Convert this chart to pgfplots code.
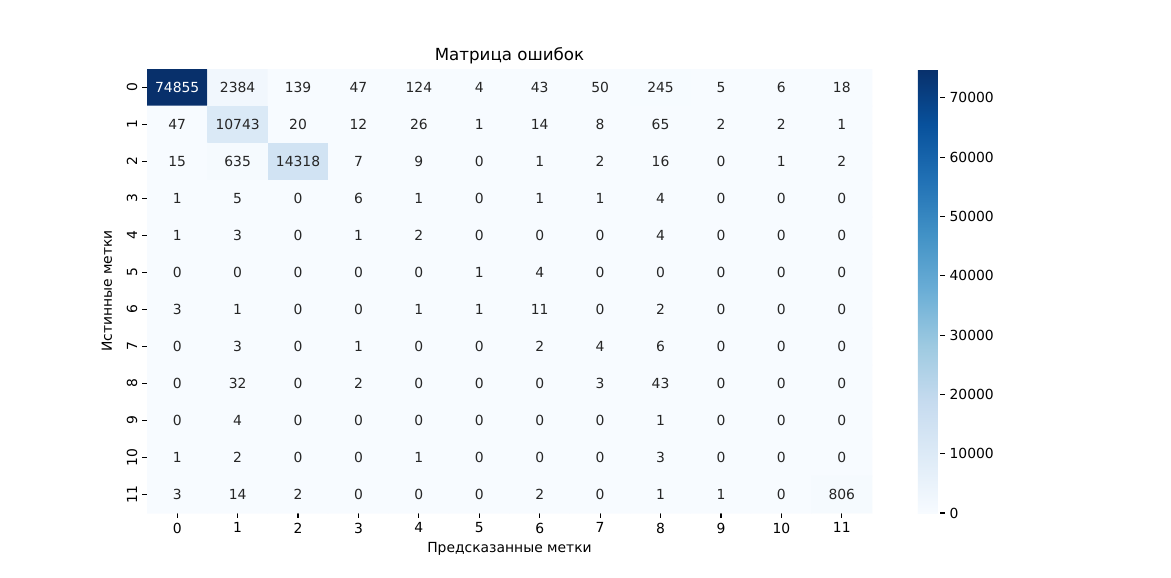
\documentclass[border=0pt]{standalone}
\usepackage{pgfplots}
\usepackage{pgfplotstable}
\pgfplotsset{compat=1.18}
\usepackage{fontspec}
\setmainfont{DejaVu Sans}
\definecolor{annot}{HTML}{262626}
\pgfplotstableread[row sep=\\]{
x y c\\
0 0 74855\\ 1 0 2384\\ 2 0 139\\ 3 0 47\\ 4 0 124\\ 5 0 4\\ 6 0 43\\ 7 0 50\\ 8 0 245\\ 9 0 5\\ 10 0 6\\ 11 0 18\\
0 1 47\\ 1 1 10743\\ 2 1 20\\ 3 1 12\\ 4 1 26\\ 5 1 1\\ 6 1 14\\ 7 1 8\\ 8 1 65\\ 9 1 2\\ 10 1 2\\ 11 1 1\\
0 2 15\\ 1 2 635\\ 2 2 14318\\ 3 2 7\\ 4 2 9\\ 5 2 0\\ 6 2 1\\ 7 2 2\\ 8 2 16\\ 9 2 0\\ 10 2 1\\ 11 2 2\\
0 3 1\\ 1 3 5\\ 2 3 0\\ 3 3 6\\ 4 3 1\\ 5 3 0\\ 6 3 1\\ 7 3 1\\ 8 3 4\\ 9 3 0\\ 10 3 0\\ 11 3 0\\
0 4 1\\ 1 4 3\\ 2 4 0\\ 3 4 1\\ 4 4 2\\ 5 4 0\\ 6 4 0\\ 7 4 0\\ 8 4 4\\ 9 4 0\\ 10 4 0\\ 11 4 0\\
0 5 0\\ 1 5 0\\ 2 5 0\\ 3 5 0\\ 4 5 0\\ 5 5 1\\ 6 5 4\\ 7 5 0\\ 8 5 0\\ 9 5 0\\ 10 5 0\\ 11 5 0\\
0 6 3\\ 1 6 1\\ 2 6 0\\ 3 6 0\\ 4 6 1\\ 5 6 1\\ 6 6 11\\ 7 6 0\\ 8 6 2\\ 9 6 0\\ 10 6 0\\ 11 6 0\\
0 7 0\\ 1 7 3\\ 2 7 0\\ 3 7 1\\ 4 7 0\\ 5 7 0\\ 6 7 2\\ 7 7 4\\ 8 7 6\\ 9 7 0\\ 10 7 0\\ 11 7 0\\
0 8 0\\ 1 8 32\\ 2 8 0\\ 3 8 2\\ 4 8 0\\ 5 8 0\\ 6 8 0\\ 7 8 3\\ 8 8 43\\ 9 8 0\\ 10 8 0\\ 11 8 0\\
0 9 0\\ 1 9 4\\ 2 9 0\\ 3 9 0\\ 4 9 0\\ 5 9 0\\ 6 9 0\\ 7 9 0\\ 8 9 1\\ 9 9 0\\ 10 9 0\\ 11 9 0\\
0 10 1\\ 1 10 2\\ 2 10 0\\ 3 10 0\\ 4 10 1\\ 5 10 0\\ 6 10 0\\ 7 10 0\\ 8 10 3\\ 9 10 0\\ 10 10 0\\ 11 10 0\\
0 11 3\\ 1 11 14\\ 2 11 2\\ 3 11 0\\ 4 11 0\\ 5 11 0\\ 6 11 2\\ 7 11 0\\ 8 11 1\\ 9 11 1\\ 10 11 0\\ 11 11 806\\
}\cm
\begin{document}
\begin{tikzpicture}
\path[use as bounding box, fill=white] (0,0) rectangle (843.12pt,415.44pt);
\begin{axis}[
  at={(105.84pt,46.08pt)}, anchor=south west,
  scale only axis, width=522pt, height=319.68pt,
  xmin=-0.5, xmax=11.5, ymin=-0.5, ymax=11.5,
  y dir=reverse,
  axis line style={draw=none},
  xtick={0,...,11}, ytick={0,...,11},
  xtick pos=bottom, ytick pos=left,
  tick align=outside, major tick length=3.5pt,
  tick style={black, line width=0.8pt},
  ticklabel style={font=\fontsize{10}{12}\selectfont},
  yticklabel style={rotate=90, anchor=south},
  /pgf/number format/assume math mode=true,
  /pgf/number format/1000 sep={},
  title={Матрица ошибок},
  title style={font=\fontsize{12}{14}\selectfont, inner sep=0pt, yshift=-2.64pt},
  xlabel={Предсказанные метки}, ylabel={Истинные метки},
  ylabel shift=3.6pt,
  label style={font=\fontsize{10}{12}\selectfont},
  colormap={blues}{rgb255=(247,251,255) rgb255=(222,235,247) rgb255=(198,219,239) rgb255=(158,202,225) rgb255=(107,174,214) rgb255=(66,146,198) rgb255=(33,113,181) rgb255=(8,81,156) rgb255=(8,48,107)},
  point meta min=0, point meta max=74855,
  colorbar,
  colorbar style={
    at={(parent axis.north east)}, anchor=north west, xshift=24.48pt,
    width=15.84pt, height=319.68pt,
    axis line style={draw=none},
    xtick=\empty,
    ytick={0,10000,20000,30000,40000,50000,60000,70000},
    ytick pos=right,
    scaled y ticks=false,
    tick align=outside, major tick length=3.5pt,
    tick style={black, line width=0.8pt},
    yticklabel style={font=\fontsize{10}{12}\selectfont, /pgf/number format/1000 sep={}, /pgf/number format/assume math mode=true, /pgf/number format/fixed},
  },
]
\addplot[matrix plot*, mesh/cols=12, point meta=explicit] table[x=x, y=y, meta=c] {\cm};
\addplot[only marks, mark=none, point meta=explicit,
  nodes near coords={\pgfmathprintnumber[fixed,precision=0,1000 sep={},assume math mode=true]{\pgfplotspointmeta}},
  nodes near coords align=center,
  every node near coord/.append style={font=\fontsize{10}{12}\selectfont, text=annot, anchor=center},
  restrict expr to domain={\thisrow{c}}{-1:40000}] table[x=x, y=y, meta=c] {\cm};
\addplot[only marks, mark=none, point meta=explicit,
  nodes near coords={\pgfmathprintnumber[fixed,precision=0,1000 sep={},assume math mode=true]{\pgfplotspointmeta}},
  nodes near coords align=center,
  every node near coord/.append style={font=\fontsize{10}{12}\selectfont, text=white, anchor=center},
  restrict expr to domain={\thisrow{c}}{40000:100000}] table[x=x, y=y, meta=c] {\cm};
\end{axis}
\end{tikzpicture}
\end{document}
